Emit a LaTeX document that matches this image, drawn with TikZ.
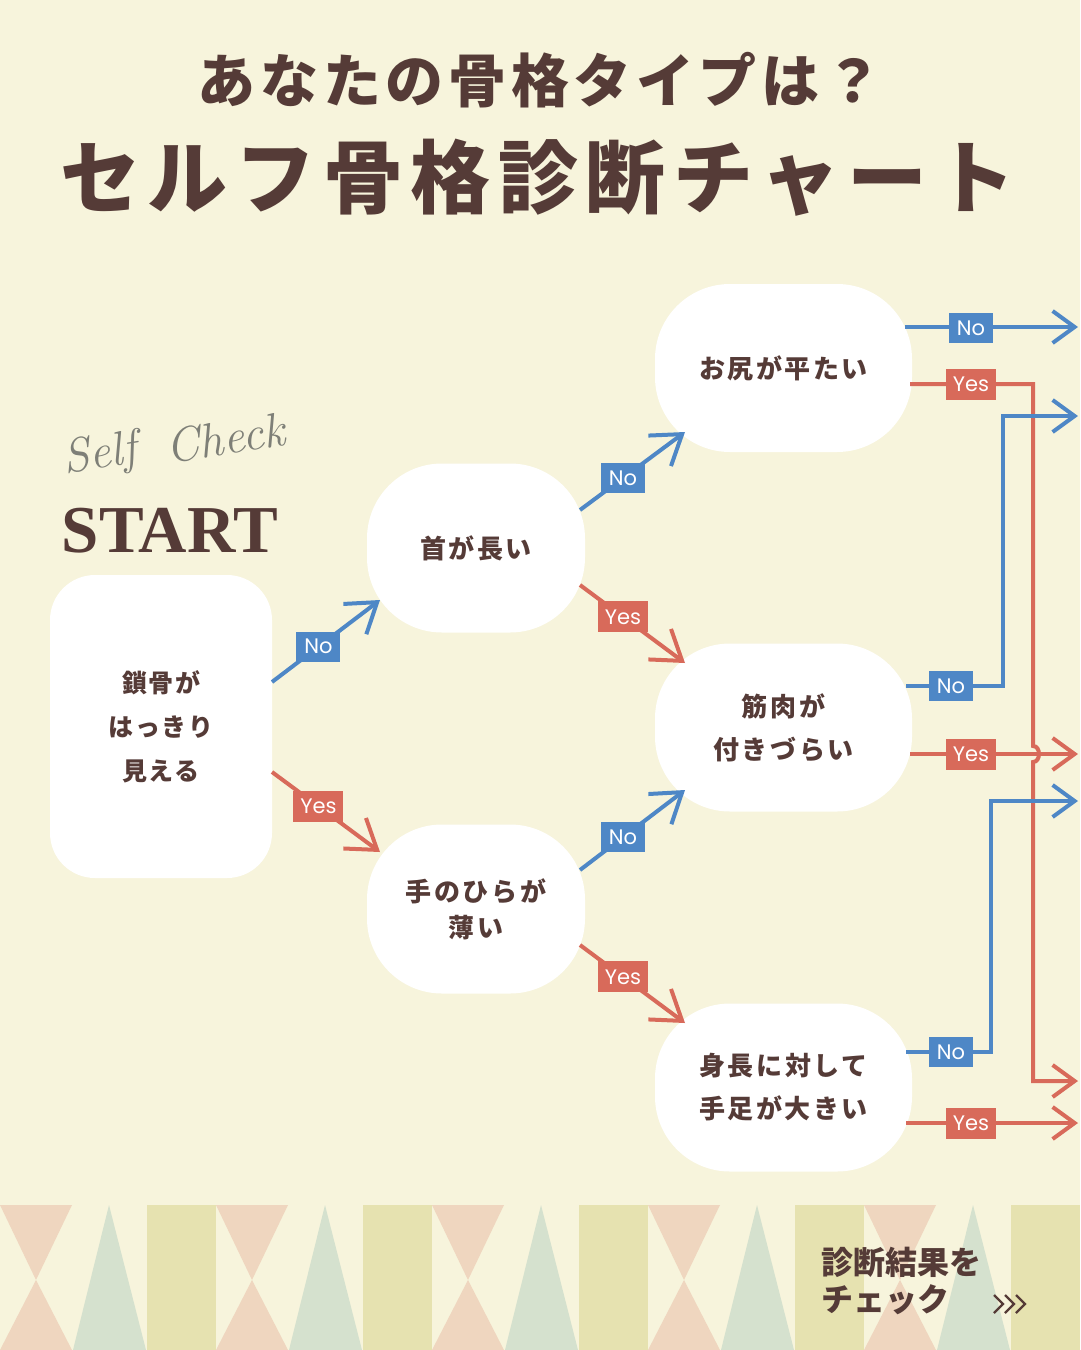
\documentclass[tikz,border=0pt]{standalone}
\usepackage{fontspec}
\usetikzlibrary{arrows.meta,calc}
\newfontfamily\jp{Noto Sans CJK JP}
\newfontfamily\poppins{Poppins}
\newfontfamily\startfont{Liberation Serif}
\definecolor{bg}{HTML}{F7F4DC}
\definecolor{ink}{HTML}{553B37}
\definecolor{bl}{HTML}{4E87C6}
\definecolor{rd}{HTML}{D86A5A}
\definecolor{pk}{HTML}{EFD6BF}
\definecolor{gr}{HTML}{D5E1CE}
\definecolor{ol}{HTML}{E6E2B0}
\definecolor{sc}{HTML}{7E7F77}
\newcommand\qfont{\fontsize{26}{43}\selectfont\jp\bfseries\addfontfeatures{LetterSpace=10}}
\newcommand\labfont{\fontsize{21}{21}\selectfont\poppins}
\tikzset{
  qbox/.style={rectangle, rounded corners=75pt, fill=white, minimum width=218pt,
    minimum height=169pt, inner sep=0pt, align=center, text=ink, font=\qfont},
  rbox/.style={qbox, minimum width=257pt, minimum height=168pt},
  sbox/.style={qbox, rounded corners=45pt, minimum width=222pt, minimum height=303pt,
    font={\fontsize{25}{44}\selectfont\jp\bfseries\addfontfeatures{LetterSpace=6}}},
  nolab/.style={fill=bl, text=white, minimum width=44pt, minimum height=30pt, inner sep=0pt, font=\labfont},
  yeslab/.style={fill=rd, text=white, minimum width=50pt, minimum height=31pt, inner sep=0pt, font=\labfont},
  bline/.style={draw=bl, line width=4pt},
  rline/.style={draw=rd, line width=4pt},
  diag/.style={-{Straight Barb[length=28pt,width=38pt]}},
  side/.style={-{Straight Barb[length=22pt,width=32pt]}},
  titlefont/.style={text=ink},
  scfont/.style={text=sc, rotate=9, font={\fontsize{48}{50}\selectfont\itshape}},
}
\begin{document}
\begin{tikzpicture}[x=1pt,y=-1pt]
\fill[bg] (0,0) rectangle (1080,1350);
\useasboundingbox (0,0) rectangle (1080,1350);

% bottom pattern
\foreach \o in {0,216,432,648,864}{
  \fill[pk] (\o,1205) -- (\o+72,1205) -- (\o+36,1280) -- cycle;
  \fill[pk] (\o+36,1280) -- (\o+72,1350) -- (\o,1350) -- cycle;
  \fill[gr] (\o+73,1350) -- (\o+109,1205) -- (\o+146,1350) -- cycle;
  \fill[ol] (\o+147,1205) rectangle (\o+216,1350);
}

% titles
\node[titlefont, font={\fontsize{58}{60}\selectfont\jp\bfseries\addfontfeatures{LetterSpace=8}}] (t1) at (540,80) {あなたの骨格タイプは？};
\node[titlefont, font={\fontsize{80}{84}\selectfont\jp\bfseries\addfontfeatures{LetterSpace=9.5}}] (t2) at (538,178) {セルフ骨格診断チャート};

% start label
\node[scfont] (self) at (100,456) {Self};
\node[scfont] (check) at (225,438) {Check};
\node[text=ink, font={\fontsize{67}{67}\selectfont\startfont\bfseries}] (st) at (170,531) {START};

% nodes
\node[sbox] (s) at (161,726.5) {鎖骨が\\はっきり\\見える};
\node[qbox] (q1) at (476,548) {首が長い};
\node[qbox, font={\fontsize{26}{36}\selectfont\jp\bfseries\addfontfeatures{LetterSpace=10}}] (q2) at (476,909) {手のひらが\\薄い};
\node[rbox] (r1) at (783.5,368) {お尻が平たい};
\node[rbox] (r2) at (783.5,727.5) {筋肉が\\付きづらい};
\node[rbox] (r3) at (783.5,1087.5) {身長に対して\\手足が大きい};

% diagonal connector end points
\coordinate (sN0) at (272,682);  \coordinate (sN1) at (380,600);
\coordinate (sY0) at (272,772);  \coordinate (sY1) at (380,852);
\coordinate (aN0) at (580,510);  \coordinate (aN1) at (685,432);
\coordinate (aY0) at (580,585);  \coordinate (aY1) at (685,663);
\coordinate (bN0) at (580,870);  \coordinate (bN1) at (685,790);
\coordinate (bY0) at (580,945);  \coordinate (bY1) at (685,1023);

\draw[bline,diag] (sN0) -- node[nolab,pos=0.43] (lsN) {No} (sN1);
\draw[rline,diag] (sY0) -- node[yeslab,pos=0.43] (lsY) {Yes} (sY1);
\draw[bline,diag] (aN0) -- node[nolab,pos=0.41] (laN) {No} (aN1);
\draw[rline,diag] (aY0) -- node[yeslab,pos=0.41] (laY) {Yes} (aY1);
\draw[bline,diag] (bN0) -- node[nolab,pos=0.41] (lbN) {No} (bN1);
\draw[rline,diag] (bY0) -- node[yeslab,pos=0.41] (lbY) {Yes} (bY1);

% right side connectors
\coordinate (r1N0) at (905,327);  \coordinate (r1N1) at (1078,327);
\coordinate (r1Y0) at (910,384);  \coordinate (r1Y1) at (1078,1081);
\coordinate (r2N0) at (906,686);  \coordinate (r2N1) at (1078,416);
\coordinate (r2Y0) at (910,754);  \coordinate (r2Y1) at (1078,754);
\coordinate (r3N0) at (906,1052); \coordinate (r3N1) at (1078,801);
\coordinate (r3Y0) at (906,1123); \coordinate (r3Y1) at (1078,1123);

\draw[rline,side] (r2Y0) -- (r2Y1);
\draw[rline,side] (r3Y0) -- (r3Y1);
\draw[rline,side] (r1Y0) -- (1033,384) -- (1033,746)
   .. controls (1041,746) and (1041,762) .. (1033,762) -- (1033,1081) -- (r1Y1);
\draw[bline,side] (r1N0) -- (r1N1);
\draw[bline,side] (r2N0) -- (1003,686) -- (1003,416) -- (r2N1);
\draw[bline,side] (r3N0) -- (991,1052) -- (991,801) -- (r3N1);

\node[nolab] (l1N) at (971,328) {No};
\node[yeslab] (l1Y) at (971,384) {Yes};
\node[nolab] (l2N) at (951,686) {No};
\node[yeslab] (l2Y) at (971,754) {Yes};
\node[nolab] (l3N) at (951,1052) {No};
\node[yeslab] (l3Y) at (971,1123) {Yes};

% bottom call to action
\node[anchor=west, text=ink, font={\fontsize{32}{32}\selectfont\jp\bfseries}] (res1) at (818,1262) {診断結果を};
\node[anchor=west, text=ink, font={\fontsize{32}{32}\selectfont\jp\bfseries}] (res2) at (818,1300) {チェック};
\foreach \i in {0,1,2}
  \draw[ink, line width=2.4pt] (994+11*\i,1295) -- (1003+11*\i,1304) -- (994+11*\i,1313);
\end{tikzpicture}
\end{document}
